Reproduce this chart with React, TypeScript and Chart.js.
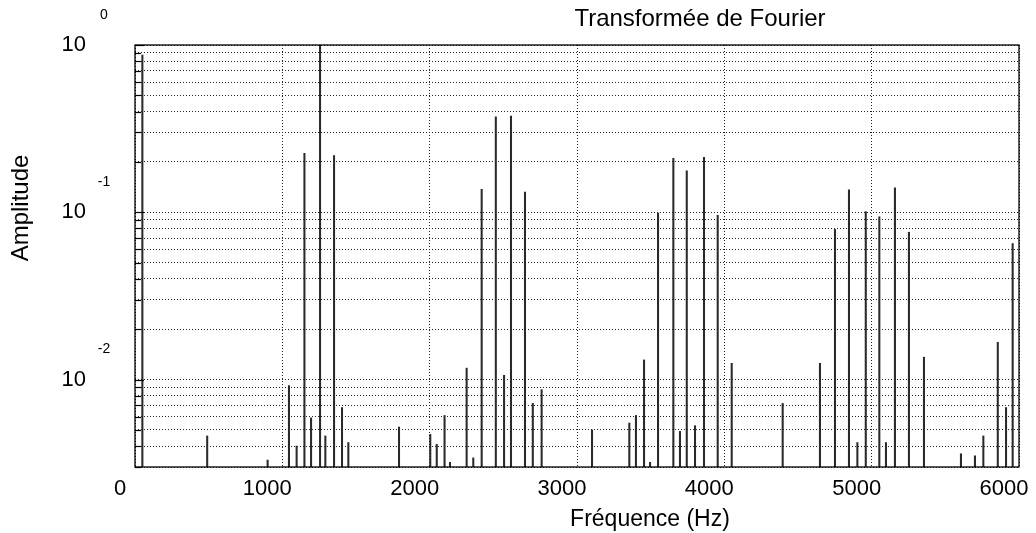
import React, { useEffect, useRef } from 'react';
import { Chart, registerables } from 'chart.js';

Chart.register(...registerables);

// ---- data ----
const frequencies = [
  50, 490, 900, 1045, 1097, 1150, 1195, 1256, 1292, 1351, 1405, 1448, 1792,
  2004, 2048, 2101, 2138, 2251, 2296, 2353, 2449, 2505, 2552, 2647, 2700, 2760,
  3102, 3355, 3400, 3455, 3496, 3550, 3654, 3699, 3745, 3801, 3862, 3955,
  4050, 4396, 4649, 4751, 4846, 4903, 4960, 5052, 5097, 5158, 5253, 5355,
  5606, 5701, 5758, 5856, 5912, 5957,
];
const amplitudes = [
  0.87, 0.0046, 0.0033, 0.0092, 0.004, 0.225, 0.0059, 1.0, 0.0046, 0.218, 0.0068, 0.0042, 0.0052,
  0.0047, 0.0041, 0.0061, 0.0032, 0.0117, 0.0034, 0.137, 0.372, 0.0106, 0.376, 0.132, 0.0072, 0.0087,
  0.005, 0.0055, 0.0061, 0.0131, 0.0032, 0.099, 0.21, 0.0049, 0.177, 0.0053, 0.213, 0.096,
  0.0125, 0.0072, 0.0125, 0.079, 0.136, 0.0042, 0.101, 0.094, 0.0042, 0.14, 0.076, 0.0136,
  0.0036, 0.0035, 0.0046, 0.0167, 0.0068, 0.065,
];
const xTickValues = [0, 1000, 2000, 3000, 4000, 5000, 6000];
const yMantissas = [1, 2, 3, 4, 5, 6, 7, 8, 9];
const yDecadeExponents = [-3, -2, -1, 0];
const yLabelExponents = [0, -1, -2];
const xMin = 0;
const xMax = 6000;
const yMin = 0.003;
const yMax = 1;

const titleText = 'Transformée de Fourier';
const xTitleText = 'Fréquence (Hz)';
const yTitleText = 'Amplitude';

const FONT = '"Liberation Sans", Arial, Helvetica, sans-serif';

const yTickValues: number[] = [];
yDecadeExponents.forEach((e) => {
  yMantissas.forEach((m) => {
    const v = parseFloat((m * Math.pow(10, e)).toPrecision(6));
    if (v >= yMin - 1e-12 && v <= yMax + 1e-12) yTickValues.push(v);
  });
});

const isPow10 = (v: number) => Math.abs(Math.log10(v) - Math.round(Math.log10(v))) < 1e-9;

const decorPlugin = {
  id: 'decor',
  afterDraw(chart: any) {
    const { ctx, chartArea: a, scales } = chart;
    const ys = scales.y;
    ctx.save();
    // frame
    ctx.strokeStyle = '#000';
    ctx.lineWidth = 1.3;
    ctx.setLineDash([]);
    ctx.strokeRect(a.left, a.top, a.right - a.left, a.bottom - a.top);
    // inward tick marks on left axis
    ctx.lineWidth = 1.2;
    yTickValues.forEach((v) => {
      const py = Math.round(ys.getPixelForValue(v)) + 0.5;
      ctx.beginPath();
      ctx.moveTo(a.left, py);
      ctx.lineTo(a.left + (isPow10(v) ? 9 : 6), py);
      ctx.stroke();
    });
    // y tick labels 10^n
    ctx.fillStyle = '#000';
    yLabelExponents.forEach((e) => {
      const py = ys.getPixelForValue(Math.pow(10, e));
      ctx.font = `22px ${FONT}`;
      ctx.textAlign = 'right';
      ctx.textBaseline = 'middle';
      ctx.fillText('10', a.left - 49, py);
      ctx.font = `14px ${FONT}`;
      ctx.textAlign = 'center';
      ctx.fillText(String(e), a.left - 31, py - 30);
    });
    // title
    ctx.font = `24px ${FONT}`;
    ctx.textAlign = 'center';
    ctx.textBaseline = 'alphabetic';
    ctx.fillText(titleText, 700, 26);
    // x title
    ctx.font = `23px ${FONT}`;
    ctx.fillText(xTitleText, 650, 526);
    // y title
    ctx.font = `24px ${FONT}`;
    ctx.translate(28, 208);
    ctx.rotate(-Math.PI / 2);
    ctx.fillText(yTitleText, 0, 0);
    ctx.restore();
  },
};

export default function App() {
  const canvasRef = useRef<HTMLCanvasElement | null>(null);

  useEffect(() => {
    if (!canvasRef.current) return;
    const chart = new Chart(canvasRef.current, {
      type: 'bar',
      data: {
        datasets: [
          {
            data: frequencies.map((f, i) => ({ x: f, y: amplitudes[i] })),
            backgroundColor: '#2a2a2a',
            borderWidth: 0,
            barThickness: 1.4,
          } as any,
        ],
      },
      options: {
        animation: false,
        responsive: false,
        maintainAspectRatio: false,
        events: [],
        layout: { padding: { top: 45, right: 17, bottom: 0, left: 0 } },
        plugins: {
          legend: { display: false },
          tooltip: { enabled: false },
          title: { display: false },
        },
        scales: {
          x: {
            type: 'linear',
            min: xMin,
            max: xMax,
            offset: false,
            afterBuildTicks: (scale: any) => {
              scale.ticks = xTickValues.map((v) => ({ value: v }));
            },
            afterFit: (scale: any) => {
              scale.height = 66;
              scale.paddingLeft = 0;
              scale.paddingRight = 0;
            },
            ticks: {
              autoSkip: false,
              maxRotation: 0,
              padding: 9,
              labelOffset: -15,
              color: '#000',
              font: { family: FONT, size: 22 },
              callback: (v: any) => String(v),
            },
            grid: {
              offset: false,
              drawTicks: false,
              color: '#222',
              lineWidth: 1,
            },
            border: { display: false, dash: [1, 2] },
          } as any,
          y: {
            type: 'logarithmic',
            min: yMin,
            max: yMax,
            afterBuildTicks: (scale: any) => {
              scale.ticks = yTickValues.map((v) => ({ value: v, major: isPow10(v) }));
            },
            afterFit: (scale: any) => {
              scale.width = 135;
              scale.paddingTop = 0;
              scale.paddingBottom = 0;
            },
            ticks: { display: false },
            grid: {
              drawTicks: false,
              color: '#222',
              lineWidth: 1,
            },
            border: { display: false, dash: [1, 2] },
          } as any,
        },
      },
      plugins: [decorPlugin],
    });
    return () => chart.destroy();
  }, []);

  return (
    <div style={{ position: 'absolute', left: 0, top: 0, width: 1036, height: 533, background: '#fff' }}>
      <canvas ref={canvasRef} width={1036} height={533} style={{ display: 'block' }} />
    </div>
  );
}
